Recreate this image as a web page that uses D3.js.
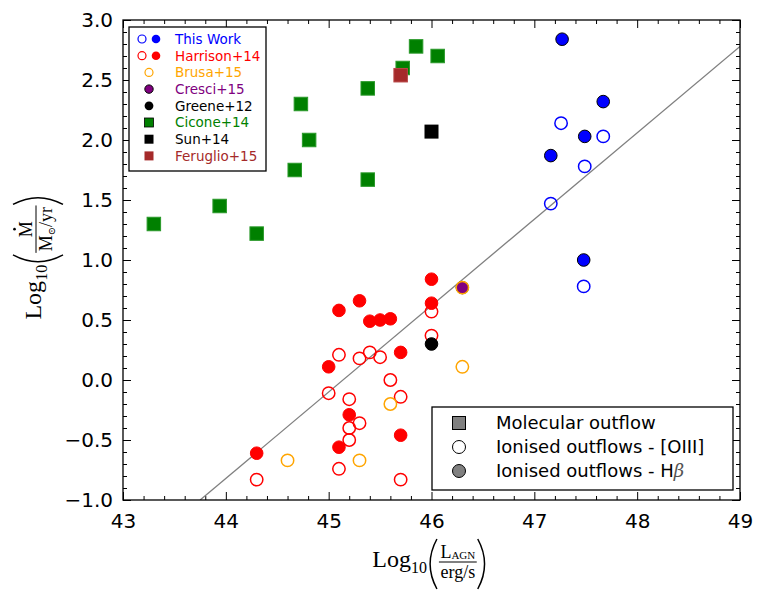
<!DOCTYPE html>
<html>
<head>
<meta charset="utf-8">
<script src="https://cdn.jsdelivr.net/npm/d3@7"></script>
<style>
  html, body { margin: 0; padding: 0; background: #fff; }
  svg { display: block; }
  .tick text { font-family: "DejaVu Sans", sans-serif; }
</style>
</head>
<body>
<script>
// ---------------- DATA ----------------
const xTicks = [43, 44, 45, 46, 47, 48, 49];
const yTicks = [-1.0, -0.5, 0.0, 0.5, 1.0, 1.5, 2.0, 2.5, 3.0];

const thisWorkOpenX = [47.26, 47.67, 47.49, 47.16, 47.48];
const thisWorkOpenY = [2.14, 2.03, 1.78, 1.47, 0.78];
const thisWorkFilledX = [47.27, 47.67, 47.49, 47.16, 47.48];
const thisWorkFilledY = [2.84, 2.32, 2.03, 1.87, 1.00];

const harrisonOpenX = [46.0, 46.0, 45.1, 45.4, 45.3, 45.5, 45.6, 45.0, 45.2, 45.7, 45.3, 45.2, 45.2, 45.1, 45.7, 44.3];
const harrisonOpenY = [0.57, 0.37, 0.21, 0.23, 0.18, 0.19, 0.00, -0.11, -0.16, -0.14, -0.36, -0.40, -0.50, -0.74, -0.83, -0.83];
const harrisonFilledX = [46.0, 45.3, 45.1, 45.4, 45.5, 45.6, 46.0, 45.7, 45.0, 45.2, 45.7, 45.1, 44.3];
const harrisonFilledY = [0.84, 0.66, 0.58, 0.49, 0.50, 0.51, 0.64, 0.23, 0.11, -0.29, -0.46, -0.56, -0.61];

const brusaX = [45.6, 46.3, 45.3, 44.6, 46.3];
const brusaY = [-0.20, 0.11, -0.67, -0.67, 0.77];
const cresciX = [46.3];
const cresciY = [0.77];
const greeneX = [46.0];
const greeneY = [0.30];

const ciconeX = [43.30, 43.94, 44.30, 44.67, 44.73, 44.81, 45.38, 45.38, 45.85, 45.72, 46.06];
const ciconeY = [1.30, 1.45, 1.22, 1.75, 2.30, 2.00, 2.43, 1.67, 2.78, 2.60, 2.70];
const sunX = [46.0];
const sunY = [2.07];
const feruglioX = [45.70];
const feruglioY = [2.54];

// relation line
const relX = [43.75, 49.0];
const relY = [-1.0, 2.78];

const legendNames = ["This Work", "Harrison+14", "Brusa+15", "Cresci+15", "Greene+12", "Cicone+14", "Sun+14", "Feruglio+15"];
const legend2Names = ["Molecular outflow", "Ionised outflows - [OIII]", "Ionised outflows - H"];

// ---------------- CHART ----------------
const W = 765, H = 593;
const L = 123, R = 740, T = 20, B = 500;
const x = d3.scaleLinear().domain([43, 49]).range([L, R]);
const y = d3.scaleLinear().domain([-1, 3]).range([B, T]);

const svg = d3.select("body").append("svg").attr("width", W).attr("height", H);
svg.append("rect").attr("width", W).attr("height", H).attr("fill", "#fff");

svg.append("defs").append("clipPath").attr("id", "clip")
  .append("rect").attr("x", L).attr("y", T).attr("width", R - L).attr("height", B - T);

const zip = (xs, ys) => xs.map((v, i) => [v, ys[i]]);

// axes (ticks inward)
const fmt = d3.format(".1f");
const xMinor = d3.range(43, 49.001, 0.2).map(v => +v.toFixed(1)).filter(v => !xTicks.includes(v));
const yMinor = d3.range(-1, 3.001, 0.1).map(v => +v.toFixed(1)).filter(v => !yTicks.some(t => Math.abs(t - v) < 1e-6));

function styleAxis(g) {
  g.select(".domain").remove();
  g.selectAll(".tick line").attr("stroke", "#000").attr("stroke-width", 1);
  g.selectAll(".tick text").attr("fill", "#000").style("font-size", "20px");
}
svg.append("g").attr("transform", `translate(0,${B})`)
  .call(d3.axisBottom(x).tickValues(xTicks).tickSize(-8).tickPadding(14).tickFormat(d3.format("d"))).call(styleAxis);
svg.append("g").attr("transform", `translate(0,${B})`)
  .call(d3.axisBottom(x).tickValues(xMinor).tickSize(-4).tickFormat("")).call(styleAxis);
svg.append("g").attr("transform", `translate(0,${T})`)
  .call(d3.axisTop(x).tickValues(xTicks).tickSize(-8).tickFormat("")).call(styleAxis);
svg.append("g").attr("transform", `translate(0,${T})`)
  .call(d3.axisTop(x).tickValues(xMinor).tickSize(-4).tickFormat("")).call(styleAxis);
svg.append("g").attr("transform", `translate(${L},0)`)
  .call(d3.axisLeft(y).tickValues(yTicks).tickSize(-8).tickPadding(10).tickFormat(fmt)).call(styleAxis);
svg.append("g").attr("transform", `translate(${L},0)`)
  .call(d3.axisLeft(y).tickValues(yMinor).tickSize(-4).tickFormat("")).call(styleAxis);
svg.append("g").attr("transform", `translate(${R},0)`)
  .call(d3.axisRight(y).tickValues(yTicks).tickSize(-8).tickFormat("")).call(styleAxis);
svg.append("g").attr("transform", `translate(${R},0)`)
  .call(d3.axisRight(y).tickValues(yMinor).tickSize(-4).tickFormat("")).call(styleAxis);

const plot = svg.append("g").attr("clip-path", "url(#clip)");

// relation line
plot.append("path").datum(zip(relX, relY))
  .attr("d", d3.line().x(d => x(d[0])).y(d => y(d[1])))
  .attr("fill", "none").attr("stroke", "#808080").attr("stroke-width", 1.3);

function squares(data, fill, stroke, size) {
  plot.append("g").selectAll("rect").data(data).join("rect")
    .attr("x", d => x(d[0]) - size / 2).attr("y", d => y(d[1]) - size / 2)
    .attr("width", size).attr("height", size)
    .attr("fill", fill).attr("stroke", stroke).attr("stroke-width", stroke === "none" ? 0 : 1);
}
function circles(data, fill, stroke, r, sw) {
  plot.append("g").selectAll("circle").data(data).join("circle")
    .attr("cx", d => x(d[0])).attr("cy", d => y(d[1])).attr("r", r)
    .attr("fill", fill).attr("stroke", stroke).attr("stroke-width", sw);
}

squares(zip(ciconeX, ciconeY), "#008000", "#2a992a", 13.5);
squares(zip(sunX, sunY), "#000", "none", 14);
squares(zip(feruglioX, feruglioY), "#a52a2a", "#b84848", 13.5);
circles(zip(harrisonOpenX, harrisonOpenY), "none", "#ff0000", 6.2, 1.5);
circles(zip(harrisonFilledX, harrisonFilledY), "#ff0000", "#ff0000", 6.3, 1);
circles(zip(greeneX, greeneY), "#000", "#000", 6.3, 1);
circles(zip(cresciX, cresciY), "#800080", "#000", 6.2, 1);
circles(zip(brusaX, brusaY), "none", "#ffa500", 6.2, 1.5);
circles(zip(thisWorkOpenX, thisWorkOpenY), "none", "#0000ff", 6.2, 1.5);
circles(zip(thisWorkFilledX, thisWorkFilledY), "#0000ff", "#000", 6.3, 1);

// frame
svg.append("rect").attr("x", L).attr("y", T).attr("width", R - L).attr("height", B - T)
  .attr("fill", "none").attr("stroke", "#000").attr("stroke-width", 1.3);

// ---------------- LEGEND 1 ----------------
const lg = svg.append("g");
lg.append("rect").attr("x", 129).attr("y", 27).attr("width", 137).attr("height", 144)
  .attr("fill", "#fff").attr("stroke", "#000").attr("stroke-width", 1.3);
const legColors = ["#0000ff", "#ff0000", "#ffa500", "#800080", "#000000", "#008000", "#000000", "#a52a2a"];
legendNames.forEach((name, i) => {
  const ry = 39 + i * 16.7;
  const c = legColors[i];
  if (i === 0 || i === 1) {
    lg.append("circle").attr("cx", 142).attr("cy", ry).attr("r", 4).attr("fill", "none").attr("stroke", c).attr("stroke-width", 1.2);
    lg.append("circle").attr("cx", 156).attr("cy", ry).attr("r", 4.3).attr("fill", c);
  } else if (i === 2) {
    lg.append("circle").attr("cx", 149).attr("cy", ry).attr("r", 4).attr("fill", "none").attr("stroke", c).attr("stroke-width", 1.2);
  } else if (i === 3) {
    lg.append("circle").attr("cx", 149).attr("cy", ry).attr("r", 4.2).attr("fill", c).attr("stroke", "#000").attr("stroke-width", 1);
  } else if (i === 4) {
    lg.append("circle").attr("cx", 149).attr("cy", ry).attr("r", 4.4).attr("fill", c);
  } else {
    const s = 9;
    lg.append("rect").attr("x", 149 - s / 2).attr("y", ry - s / 2).attr("width", s).attr("height", s)
      .attr("fill", c).attr("stroke", i === 5 ? "#000" : "none").attr("stroke-width", 0.8);
  }
  lg.append("text").attr("x", 175).attr("y", ry).attr("dy", "0.36em")
    .style("font-family", "DejaVu Sans, sans-serif").style("font-size", "13.5px")
    .attr("fill", c).text(name);
});

// ---------------- LEGEND 2 ----------------
const lg2 = svg.append("g");
lg2.append("rect").attr("x", 432).attr("y", 407).attr("width", 301).attr("height", 83)
  .attr("fill", "#fff").attr("stroke", "#000").attr("stroke-width", 1.3);
legend2Names.forEach((name, i) => {
  const ry = 423 + i * 24;
  if (i === 0) {
    lg2.append("rect").attr("x", 459 - 6.5).attr("y", ry - 6.5).attr("width", 13).attr("height", 13)
      .attr("fill", "#808080").attr("stroke", "#000").attr("stroke-width", 1);
  } else {
    lg2.append("circle").attr("cx", 459).attr("cy", ry).attr("r", 6.5)
      .attr("fill", i === 1 ? "#fff" : "#808080").attr("stroke", "#000").attr("stroke-width", 1);
  }
  const t = lg2.append("text").attr("x", 496).attr("y", ry).attr("dy", "0.36em")
    .style("font-family", "DejaVu Sans, sans-serif").style("font-size", "18px").attr("fill", "#000").text(name);
  if (i === 2) {
    t.append("tspan").style("font-family", "DejaVu Serif, serif").style("font-style", "italic").attr("fill", "#555").text("β");
  }
});

// ---------------- AXIS LABELS (math style) ----------------
const serif = "Liberation Serif, DejaVu Serif, serif";
function tx(g, str, xx, yy, fs) {
  const n = g.append("text").attr("x", xx).attr("y", yy)
    .style("font-family", serif).style("font-size", fs + "px").attr("fill", "#000").text(str);
  return n.node().getComputedTextLength();
}
function paren(g, x0, cy, h, w, left) {
  const top = cy - h, bot = cy + h;
  let d;
  if (left) d = `M${x0 + w},${top} Q${x0 - w * 0.7},${cy} ${x0 + w},${bot}`;
  else d = `M${x0},${top} Q${x0 + w * 1.7},${cy} ${x0},${bot}`;
  g.append("path").attr("d", d).attr("fill", "none").attr("stroke", "#000").attr("stroke-width", 1.5);
}
function mathLabel(parent, numParts, denParts, dotNum) {
  const g = parent.append("g");
  let cx = 0;
  cx += tx(g, "Log", 0, 0, 24);
  cx += tx(g, "10", cx, 6, 16);
  cx += 2;
  const ax = -5;
  paren(g, cx, ax + 2, 25, 8, true); cx += 10;
  const numG = g.append("g"), denG = g.append("g");
  let nw = 0; numParts.forEach(p => { nw += tx(numG, p.s, nw, p.dy || 0, p.fs); });
  let dw = 0; denParts.forEach(p => { dw += tx(denG, p.s, dw, p.dy || 0, p.fs); });
  const fw = Math.max(nw, dw) + 3;
  const nx = cx + (fw - nw) / 2;
  numG.attr("transform", `translate(${nx},${ax - 4})`);
  denG.attr("transform", `translate(${cx + (fw - dw) / 2},${ax + 16})`);
  if (dotNum) g.append("circle").attr("cx", nx + nw / 2).attr("cy", ax - 21.5).attr("r", 1.3).attr("fill", "#000");
  g.append("line").attr("x1", cx).attr("x2", cx + fw).attr("y1", ax).attr("y2", ax)
    .attr("stroke", "#000").attr("stroke-width", 1);
  cx += fw + 1;
  paren(g, cx, ax + 2, 25, 8, false); cx += 10;
  return { g, width: cx };
}

// x label
const xlWrap = svg.append("g");
const xl = mathLabel(xlWrap, [{ s: "L", fs: 18 }, { s: "AGN", fs: 11, dy: 1 }], [{ s: "erg/s", fs: 18 }], false);
xlWrap.attr("transform", `translate(${430 - xl.width / 2},567)`);

// y label
const ylWrap = svg.append("g");
const yl = mathLabel(ylWrap, [{ s: "M", fs: 18 }], [{ s: "M", fs: 18 }, { s: "⊙", fs: 10, dy: 3 }, { s: "/yr", fs: 18 }], true);
ylWrap.attr("transform", `translate(41,${257 + yl.width / 2}) rotate(-90)`);
</script>
</body>
</html>
